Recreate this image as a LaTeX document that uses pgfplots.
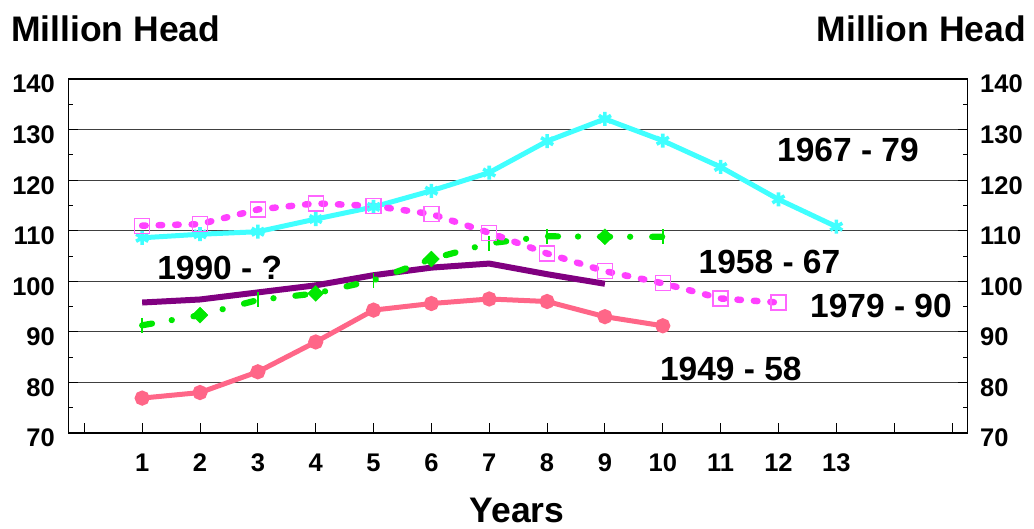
\documentclass[border=0pt]{standalone}
\usepackage{fontspec}
\setmainfont{Liberation Sans}
\usepackage{pgfplots}
\pgfplotsset{compat=1.18}

\definecolor{cyanline}{RGB}{64,255,255}
\definecolor{pinkline}{RGB}{255,102,136}
\definecolor{purpleline}{RGB}{128,0,128}
\definecolor{magentaline}{RGB}{255,64,255}
\definecolor{magentamark}{RGB}{255,102,255}
\definecolor{greenline}{RGB}{0,232,0}

\newcommand{\tickfont}{\bfseries\fontsize{25.5}{26}\selectfont}
\newcommand{\labelfont}{\bfseries\fontsize{33.5}{34}\selectfont}
\newcommand{\titlefont}{\bfseries\fontsize{35.5}{36}\selectfont}

\pgfplotsset{
  herdframe/.style={
    at={(68.3pt,96pt)}, anchor=south west,
    scale only axis, width=899.3pt, height=354pt,
    xmin=-0.277, xmax=15.27, ymin=70, ymax=140,
    /pgf/number format/assume math mode=true,
  },
}

\begin{document}
\begin{tikzpicture}[x=1pt,y=1pt]
\begin{axis}[
  herdframe,
  xtick={0,...,15},
  xticklabels={{},1,2,3,4,5,6,7,8,9,10,11,12,13,{},{}},
  xtick pos=left,
  ytick={70,80,...,140},
  minor ytick={75,85,...,135},
  ymajorgrids,
  major grid style={black!75, line width=0.9pt},
  tick align=inside,
  major tick length=10pt, minor tick length=5pt,
  every tick/.style={black, line width=0.9pt},
  axis line style={line width=1.5pt},
  xticklabel style={font=\tickfont, anchor=base, inner sep=0pt, yshift=-38.7pt},
  yticklabel style={font=\tickfont, anchor=base east, inner sep=0pt, xshift=-13.3pt, yshift=-14pt},
]
% 1967 - 79
\addplot[cyanline, line width=5pt, mark=asterisk, mark size=7pt,
  mark options={line width=3.6pt}] coordinates {
  (1,108.6) (2,109.3) (3,109.8) (4,112.3) (5,114.7) (6,117.9) (7,121.5)
  (8,127.7) (9,132.1) (10,127.8) (11,122.6) (12,116.2) (13,110.8)
};
% 1990 - ?
\addplot[purpleline, line width=6pt, mark=none] coordinates {
  (1,95.8) (2,96.4) (3,97.8) (4,99.2) (5,101.2) (6,102.7) (7,103.5)
  (8,101.4) (9,99.5)
};
% 1958 - 67
\addplot[greenline, line width=6.2pt, line cap=round,
  dash pattern=on 10pt off 20pt on 0.1pt off 22pt, mark=none] coordinates {
  (1,91.3) (2,93.3) (3,96.3) (4,97.6) (5,100.2) (6,104.4) (7,107.5)
  (8,108.9) (9,108.8) (10,108.8)
};
\addplot[only marks, greenline, mark=square*, mark size=5.6pt,
  mark options={rotate=45}] coordinates {
  (2,93.3) (4,97.6) (6,104.4) (9,108.8)
};
\addplot[only marks, greenline, mark=|, mark size=7.5pt,
  mark options={line width=1.5pt}] coordinates {
  (1,91.3) (3,96.3) (5,100.2) (7,107.5) (8,108.9) (10,108.8)
};
% 1979 - 90
\addplot[magentaline, line width=6.5pt, line cap=round,
  dash pattern=on 3.5pt off 13pt, mark=square, mark size=7.5pt,
  mark options={solid, magentamark, line width=1.3pt}] coordinates {
  (1,111.0) (2,111.3) (3,114.2) (4,115.4) (5,114.9) (6,113.3) (7,109.6)
  (8,105.5) (9,102.0) (10,99.6) (11,96.6) (12,95.8)
};
% 1949 - 58
\addplot[pinkline, line width=5pt, mark=*, mark size=5pt] coordinates {
  (1,76.9) (2,78.0) (3,82.1) (4,88.0) (5,94.3) (6,95.6) (7,96.5)
  (8,96.0) (9,93.0) (10,91.2)
};
\end{axis}

% right-hand copy of the value scale
\begin{axis}[
  herdframe,
  axis line style={draw=none},
  xtick=\empty,
  ytick={70,80,...,140},
  ytick pos=right, yticklabel pos=right,
  major tick length=0pt,
  yticklabel style={font=\tickfont, anchor=base west, inner sep=0pt, xshift=12.4pt, yshift=-14pt},
]
\addplot[draw=none] coordinates {(0,70)};
\end{axis}

% titles and series labels
\node[font=\titlefont, anchor=base west, inner sep=0pt] at (11,487.3) {Million Head};
\node[font=\titlefont, anchor=base east, inner sep=0pt] at (1026,487.3) {Million Head};
\node[font=\titlefont, anchor=base, inner sep=0pt] at (517,6) {Years};
\node[font=\labelfont, anchor=base, inner sep=0pt] at (848,367.3) {1967 - 79};
\node[font=\labelfont, anchor=base, inner sep=0pt] at (769.5,255.7) {1958 - 67};
\node[font=\labelfont, anchor=base, inner sep=0pt] at (881,211.7) {1979 - 90};
\node[font=\labelfont, anchor=base, inner sep=0pt] at (730.8,148.3) {1949 - 58};
\node[font=\labelfont, anchor=base, inner sep=0pt] at (219.7,249) {1990 - ?};

\pgfresetboundingbox
\path[use as bounding box] (0,0) rectangle (1034,529);
\end{tikzpicture}
\end{document}
